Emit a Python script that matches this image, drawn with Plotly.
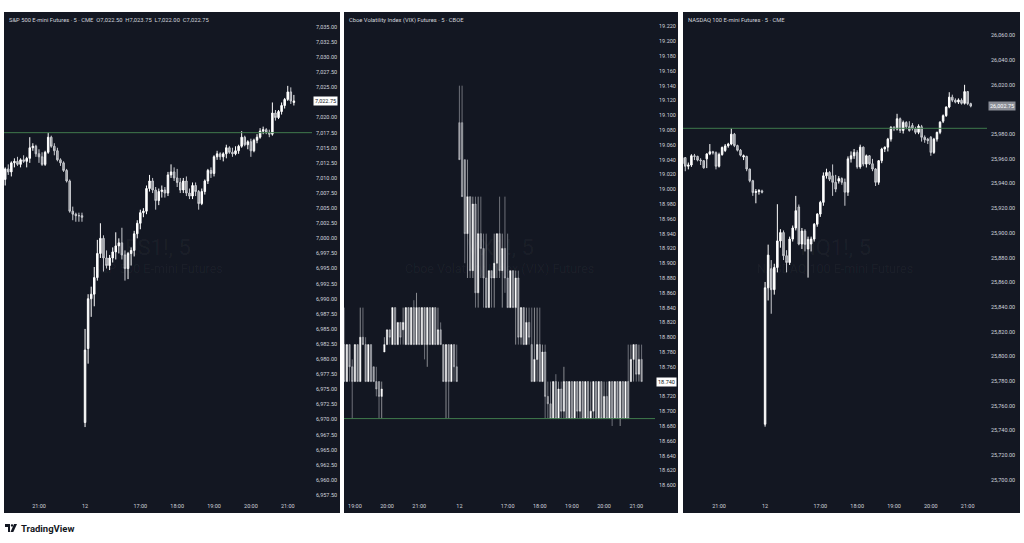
import math
import pandas as pd
import plotly.graph_objects as go

W, H = 1024, 543
BG = "#131722"
TXT = "#d1d4dc"
UP_FILL, UP_LINE = "#ffffff", "#ffffff"
DN_FILL, DN_LINE = "#8f9196", "#c9cbd0"
LEVEL_COLOR = "#3f7a4d"
FONT = "Roboto"

# ---------------- S&P 500 E-mini (ES1!) ----------------
es_open = [7009.75, 7011.5, 7011.0, 7012.5, 7012.75, 7012.25, 7013.0, 7012.75, 7013.25, 7015.0,
           7015.25, 7014.0, 7013.5, 7012.25, 7014.25, 7016.75, 7015.25, 7014.5, 7013.0, 7012.5,
           7011.25, 7009.5, 7004.5, 7004.0, 7003.75, 7003.75,
           6969.5, 6981.75, 6990.0, 6990.75, 6993.5, 6997.5, 7000.0, 6996.75, 6995.5, 6996.75,
           6997.75, 6998.75, 6999.25, 6997.25, 6995.0, 6997.5, 6998.0, 7000.75, 7002.5, 7004.25,
           7004.5, 7008.25, 7009.5, 7008.0, 7006.25, 7007.75, 7008.0, 7007.5, 7010.5, 7011.0,
           7010.0, 7009.25, 7008.0, 7009.5, 7007.5, 7007.0, 7008.75, 7007.75, 7005.75, 7007.75,
           7009.5, 7011.25, 7010.75, 7013.5, 7014.0, 7013.5, 7014.0, 7015.0, 7014.25, 7014.0,
           7014.5, 7015.25, 7016.75, 7015.5, 7016.0, 7014.5, 7016.25, 7016.75, 7017.75, 7018.0,
           7017.5, 7017.25, 7020.75, 7020.0, 7021.0, 7022.0, 7023.0, 7024.25, 7022.5]
es_high = [7011.75, 7012.25, 7012.75, 7013.25, 7013.5, 7013.25, 7013.75, 7013.5, 7016.75, 7015.75,
           7015.5, 7014.75, 7014.25, 7014.5, 7017.5, 7017.0, 7015.75, 7015.0, 7013.25, 7012.75,
           7011.5, 7009.75, 7005.25, 7004.25, 7004.25, 7004.25,
           6985.0, 6990.75, 6992.0, 6995.25, 6999.75, 7002.5, 7000.5, 6998.0, 6997.25, 6998.5,
           7001.0, 7000.0, 7001.75, 6998.0, 6997.75, 6998.5, 7001.25, 7003.0, 7004.75, 7005.0,
           7008.75, 7010.5, 7010.0, 7008.5, 7008.25, 7008.75, 7008.5, 7011.0, 7012.25, 7011.75,
           7011.5, 7010.0, 7010.0, 7010.25, 7008.25, 7009.25, 7009.25, 7008.0, 7008.25, 7009.75,
           7011.5, 7011.75, 7013.75, 7014.5, 7014.25, 7014.25, 7015.5, 7015.25, 7015.0, 7015.25,
           7015.5, 7017.75, 7017.0, 7016.25, 7016.5, 7016.5, 7017.25, 7018.25, 7018.5, 7018.25,
           7018.0, 7022.5, 7021.25, 7021.25, 7022.5, 7023.25, 7025.25, 7025.0, 7023.75]
es_low = [7008.75, 7010.5, 7010.25, 7011.75, 7012.0, 7011.75, 7012.5, 7011.75, 7012.5, 7014.5,
          7013.5, 7012.5, 7012.0, 7012.0, 7014.0, 7015.0, 7013.75, 7012.75, 7012.0, 7011.0,
          7009.25, 7004.25, 7003.0, 7002.75, 7002.75, 7002.75,
          6968.75, 6979.25, 6987.0, 6988.75, 6993.0, 6996.75, 6994.5, 6995.0, 6994.75, 6996.0,
          6996.5, 6997.5, 6996.5, 6993.0, 6993.25, 6995.5, 6997.0, 7000.0, 7001.5, 7003.5,
          7004.0, 7007.75, 7007.5, 7004.75, 7005.5, 7006.75, 7006.75, 7007.0, 7010.0, 7009.5,
          7008.5, 7007.5, 7007.5, 7007.0, 7006.5, 7006.5, 7007.0, 7004.75, 7005.5, 7007.25,
          7009.0, 7010.0, 7010.25, 7013.0, 7013.0, 7012.75, 7013.25, 7014.0, 7013.5, 7013.75,
          7014.0, 7015.0, 7015.25, 7014.75, 7013.5, 7014.25, 7015.75, 7016.5, 7017.25, 7017.25,
          7016.75, 7017.0, 7019.5, 7019.75, 7020.5, 7021.5, 7022.75, 7022.25, 7022.0]
es_close = [7011.5, 7011.0, 7012.5, 7012.75, 7012.25, 7013.0, 7012.75, 7013.25, 7015.0, 7015.25,
            7014.0, 7013.5, 7012.25, 7014.25, 7016.75, 7015.25, 7014.5, 7013.0, 7012.5, 7011.25,
            7009.5, 7004.5, 7004.0, 7003.75, 7003.75, 7003.5,
            6981.5, 6990.0, 6990.75, 6993.5, 6997.5, 7000.0, 6996.75, 6995.5, 6996.75, 6997.75,
            6998.75, 6999.25, 6997.25, 6995.0, 6997.5, 6998.0, 7000.75, 7002.5, 7004.25, 7004.5,
            7008.25, 7009.5, 7008.0, 7006.25, 7007.75, 7008.0, 7007.5, 7010.5, 7011.0, 7010.0,
            7009.25, 7008.0, 7009.5, 7007.5, 7007.0, 7008.75, 7007.75, 7005.75, 7007.75, 7009.5,
            7011.25, 7010.75, 7013.5, 7014.0, 7013.5, 7014.0, 7015.0, 7014.25, 7014.0, 7014.5,
            7015.25, 7016.75, 7015.5, 7016.0, 7014.5, 7016.25, 7016.75, 7017.75, 7018.0, 7017.5,
            7017.25, 7020.75, 7020.0, 7021.0, 7022.0, 7023.0, 7024.25, 7022.75, 7022.75]

# ---------------- VIX futures (VX1!) ----------------
vx_open = [18.79, 18.74, 18.79, 18.76, 18.74, 18.79, 18.74, 18.80, 18.79, 18.74,
           18.79, 18.76, 18.74, 18.74, 18.72, 18.78, 18.79, 18.81, 18.79, 18.84,
           18.79, 18.82, 18.81, 18.79, 18.84, 18.79, 18.84, 18.79, 18.84, 18.79,
           18.84, 18.79, 18.84, 18.79, 18.84, 18.79, 18.81, 18.79, 18.74, 18.79,
           18.74, 18.79, 18.76,
           19.09, 19.09, 19.04, 18.94, 18.99, 18.89, 18.98, 18.86, 18.94, 18.92,
           18.88, 18.84, 18.89, 18.88, 18.90, 18.94, 18.89, 18.92, 18.88, 18.84,
           18.89, 18.84, 18.88, 18.80, 18.84, 18.79, 18.82, 18.79, 18.74, 18.77,
           18.79, 18.74, 18.78, 18.72, 18.71, 18.69, 18.74, 18.69, 18.73, 18.70,
           18.74, 18.69, 18.74, 18.69, 18.74, 18.70, 18.74, 18.69, 18.74, 18.69,
           18.70, 18.74, 18.69, 18.74, 18.69, 18.72, 18.69, 18.74, 18.69, 18.74,
           18.69, 18.74, 18.69, 18.74, 18.74, 18.77, 18.79, 18.75, 18.77]
vx_high = [18.84, 18.79, 18.79, 18.77, 18.79, 18.79, 18.84, 18.84, 18.80, 18.79,
           18.79, 18.76, 18.76, 18.74, 18.74, 18.80, 18.81, 18.81, 18.84, 18.84,
           18.82, 18.82, 18.84, 18.84, 18.84, 18.84, 18.85, 18.86, 18.84, 18.84,
           18.84, 18.84, 18.84, 18.84, 18.84, 18.84, 18.82, 18.79, 18.79, 18.79,
           18.79, 18.79, 18.79,
           19.14, 19.14, 19.04, 19.04, 18.99, 18.99, 18.99, 18.99, 18.99, 18.94,
           18.94, 18.89, 18.89, 18.94, 18.94, 18.99, 18.94, 18.99, 18.94, 18.89,
           18.89, 18.89, 18.89, 18.84, 18.84, 18.84, 18.84, 18.84, 18.84, 18.84,
           18.84, 18.79, 18.79, 18.74, 18.74, 18.74, 18.75, 18.74, 18.74, 18.76,
           18.74, 18.74, 18.74, 18.74, 18.74, 18.74, 18.74, 18.74, 18.74, 18.74,
           18.74, 18.74, 18.74, 18.74, 18.74, 18.74, 18.74, 18.74, 18.74, 18.74,
           18.74, 18.74, 18.74, 18.79, 18.79, 18.79, 18.79, 18.79, 18.79]
vx_low = [18.74, 18.74, 18.74, 18.69, 18.74, 18.74, 18.74, 18.79, 18.74, 18.74,
          18.74, 18.74, 18.72, 18.69, 18.69, 18.78, 18.79, 18.79, 18.79, 18.79,
          18.79, 18.79, 18.79, 18.79, 18.79, 18.79, 18.79, 18.79, 18.79, 18.79,
          18.77, 18.76, 18.79, 18.79, 18.79, 18.79, 18.79, 18.74, 18.69, 18.69,
          18.74, 18.74, 18.74,
          19.04, 18.99, 18.90, 18.88, 18.88, 18.88, 18.84, 18.84, 18.88, 18.84,
          18.84, 18.84, 18.84, 18.84, 18.88, 18.88, 18.84, 18.86, 18.84, 18.84,
          18.84, 18.79, 18.79, 18.79, 18.79, 18.79, 18.79, 18.74, 18.74, 18.74,
          18.74, 18.74, 18.69, 18.69, 18.69, 18.69, 18.69, 18.69, 18.69, 18.69,
          18.69, 18.69, 18.69, 18.69, 18.69, 18.69, 18.69, 18.69, 18.69, 18.69,
          18.69, 18.69, 18.69, 18.69, 18.69, 18.69, 18.69, 18.68, 18.69, 18.69,
          18.68, 18.69, 18.69, 18.69, 18.74, 18.74, 18.74, 18.74, 18.74]
vx_close = [18.74, 18.79, 18.76, 18.74, 18.79, 18.74, 18.80, 18.79, 18.74, 18.79,
            18.74, 18.74, 18.73, 18.72, 18.73, 18.79, 18.81, 18.80, 18.84, 18.79,
            18.82, 18.80, 18.82, 18.84, 18.79, 18.84, 18.79, 18.84, 18.79, 18.84,
            18.79, 18.84, 18.79, 18.84, 18.79, 18.81, 18.79, 18.74, 18.79, 18.74,
            18.79, 18.76, 18.74,
            19.04, 18.99, 18.94, 18.99, 18.89, 18.98, 18.86, 18.94, 18.92, 18.88,
            18.84, 18.89, 18.88, 18.90, 18.94, 18.89, 18.92, 18.88, 18.84, 18.89,
            18.84, 18.88, 18.80, 18.84, 18.79, 18.82, 18.80, 18.74, 18.77, 18.79,
            18.74, 18.78, 18.72, 18.71, 18.69, 18.74, 18.69, 18.73, 18.70, 18.74,
            18.69, 18.74, 18.69, 18.74, 18.70, 18.74, 18.69, 18.74, 18.69, 18.70,
            18.74, 18.69, 18.74, 18.69, 18.72, 18.69, 18.74, 18.69, 18.74, 18.69,
            18.74, 18.69, 18.74, 18.69, 18.77, 18.79, 18.75, 18.77, 18.74]

# ---------------- NASDAQ 100 E-mini (NQ1!) ----------------
nq_open = [25956.0, 25961.0, 25954.0, 25955.0, 25962.5, 25962.0, 25959.0, 25958.5, 25960.0, 25964.0,
           25965.75, 25965.0, 25954.0, 25963.5, 25966.75, 25970.5, 25972.0, 25980.0, 25970.75, 25967.0,
           25961.5, 25962.0, 25951.75, 25942.25, 25932.75, 25933.5, 25934.0,
           25745.0, 25855.5, 25871.0, 25854.0, 25872.0, 25893.5, 25900.25, 25881.5, 25876.0, 25895.0,
           25904.0, 25921.0, 25891.0, 25901.5, 25887.0, 25891.0, 25895.0, 25907.0, 25915.25, 25924.75,
           25946.25, 25949.0, 25946.25, 25941.0, 25942.0, 25944.0, 25941.0, 25933.0, 25960.0, 25962.5,
           25965.25, 25953.5, 25969.5, 25955.75, 25962.5, 25956.0, 25951.75, 25941.0, 25958.5, 25968.0,
           25969.5, 25976.0, 25985.5, 25984.25, 25992.5, 25983.0, 25989.5, 25986.0, 25987.0, 25984.5,
           25981.5, 25986.0, 25977.5, 25976.0, 25977.5, 25965.25, 25976.0, 25981.5, 25990.5, 25995.0,
           26002.0, 26010.0, 26007.5, 26006.0, 26007.5, 26005.0, 26014.5, 26004.75]
nq_high = [25962.0, 25961.5, 25957.0, 25963.75, 25964.0, 25962.5, 25960.5, 25959.0, 25964.5, 25972.0,
           25966.5, 25966.0, 25965.0, 25970.0, 25972.0, 25973.0, 25984.75, 25981.0, 25971.5, 25968.0,
           25963.5, 25962.5, 25952.0, 25943.0, 25935.5, 25935.5, 25935.0,
           25860.25, 25890.5, 25878.0, 25875.0, 25923.25, 25903.0, 25902.0, 25886.0, 25897.0, 25906.0,
           25930.0, 25923.0, 25904.0, 25903.0, 25897.0, 25897.0, 25908.0, 25916.0, 25926.0, 25949.0,
           25952.0, 25950.0, 25955.5, 25947.0, 25946.0, 25945.0, 25944.0, 25962.0, 25966.0, 25968.0,
           25967.0, 25971.5, 25970.0, 25963.5, 25963.0, 25960.0, 25952.5, 25959.0, 25969.0, 25970.0,
           25977.0, 25986.5, 25986.5, 25996.5, 25993.5, 25991.0, 25990.5, 25990.5, 25989.0, 25986.0,
           25988.0, 25987.5, 25979.0, 25977.0, 25978.5, 25977.0, 25982.0, 25990.5, 25996.0, 26002.5,
           26014.0, 26012.0, 26009.0, 26009.0, 26009.0, 26020.0, 26015.0, 26005.5]
nq_low = [25947.75, 25950.0, 25951.5, 25953.5, 25959.0, 25958.0, 25955.0, 25952.0, 25952.5, 25963.0,
          25963.5, 25951.5, 25953.0, 25962.5, 25965.5, 25969.0, 25971.0, 25969.5, 25966.0, 25962.0,
          25959.0, 25950.0, 25941.0, 25930.0, 25924.0, 25931.0, 25932.0,
          25743.0, 25845.25, 25834.5, 25850.0, 25868.0, 25888.0, 25878.0, 25868.0, 25874.0, 25893.0,
          25902.0, 25890.0, 25887.0, 25885.0, 25863.75, 25885.0, 25893.0, 25905.0, 25913.0, 25922.0,
          25944.0, 25942.0, 25930.0, 25933.0, 25940.0, 25939.0, 25922.0, 25930.0, 25957.0, 25960.0,
          25952.0, 25952.0, 25954.0, 25953.0, 25955.0, 25950.0, 25938.0, 25939.0, 25956.5, 25965.5,
          25966.0, 25974.0, 25982.5, 25983.0, 25981.0, 25980.5, 25984.0, 25982.0, 25983.0, 25980.0,
          25980.0, 25974.0, 25973.0, 25972.0, 25962.5, 25964.0, 25974.0, 25980.0, 25989.0, 25994.0,
          26001.0, 26006.0, 26005.0, 26004.5, 26004.0, 26004.0, 26003.5, 26001.75]
nq_close = [25961.0, 25954.0, 25955.0, 25962.5, 25962.0, 25959.0, 25958.5, 25952.75, 25964.0, 25965.75,
            25965.0, 25954.0, 25963.5, 25969.25, 25970.5, 25972.0, 25980.0, 25970.75, 25967.0, 25963.0,
            25962.5, 25951.75, 25942.25, 25932.75, 25933.5, 25934.25, 25933.0,
            25855.5, 25882.0, 25854.0, 25872.0, 25893.5, 25900.25, 25881.5, 25876.0, 25895.0, 25904.0,
            25918.0, 25891.0, 25901.5, 25890.75, 25894.75, 25895.0, 25907.0, 25915.25, 25924.75, 25946.25,
            25949.0, 25943.5, 25941.0, 25935.5, 25944.0, 25941.0, 25933.0, 25960.0, 25962.5, 25965.25,
            25953.5, 25969.5, 25955.75, 25962.5, 25956.0, 25951.75, 25941.0, 25958.5, 25968.0, 25969.5,
            25976.0, 25985.5, 25984.25, 25992.5, 25983.0, 25989.5, 25986.0, 25983.0, 25984.5, 25981.5,
            25986.5, 25977.5, 25975.5, 25974.75, 25965.25, 25976.0, 25981.5, 25989.75, 25995.0, 26002.0,
            26010.0, 26007.5, 26006.0, 26007.75, 26005.0, 26014.5, 26004.75, 26002.75]

# sessions: (start of day-11 bars, count), (start of day-12 bars, count)
es_sessions = [("2026-02-11 20:05", 26), ("2026-02-12 15:30", 69)]
vx_sessions = [("2026-02-11 18:40", 43), ("2026-02-12 15:30", 69)]
nq_sessions = [("2026-02-11 20:00", 27), ("2026-02-12 15:30", 68)]

es_ticks = ["2026-02-11 21:00", "2026-02-12 15:30", "2026-02-12 17:00", "2026-02-12 18:00",
            "2026-02-12 19:00", "2026-02-12 20:00", "2026-02-12 21:00"]
es_ticktext = ["21:00", "12", "17:00", "18:00", "19:00", "20:00", "21:00"]
vx_ticks = ["2026-02-11 19:00", "2026-02-11 20:00", "2026-02-11 21:00", "2026-02-12 15:30",
            "2026-02-12 17:00", "2026-02-12 18:00", "2026-02-12 19:00", "2026-02-12 20:00",
            "2026-02-12 21:00"]
vx_ticktext = ["19:00", "20:00", "21:00", "12", "17:00", "18:00", "19:00", "20:00", "21:00"]
nq_ticks = ["2026-02-11 20:00", "2026-02-11 21:00", "2026-02-12 15:30", "2026-02-12 17:00",
            "2026-02-12 18:00", "2026-02-12 19:00", "2026-02-12 20:00", "2026-02-12 21:00"]
nq_ticktext = ["20:00", "21:00", "12", "17:00", "18:00", "19:00", "20:00", "21:00"]

titles = ["S&P 500 E-mini Futures · 5 · CME",
          "Cboe Volatility Index (VIX) Futures · 5 · CBOE",
          "NASDAQ 100 E-mini Futures · 5 · CME"]
wm_symbols = ["ES1!, 5", "VX1!, 5", "NQ1!, 5"]
wm_names = ["S&P 500 E-mini Futures", "Cboe Volatility Index (VIX) Futures", "NASDAQ 100 E-mini Futures"]
levels = [7017.5, 18.69, 25984.75]


def bar_times(sessions):
    out = []
    for start, n in sessions:
        out += list(pd.date_range(start, periods=n, freq="5min"))
    return out


# layout geometry (pixels)
PLOT_TOP, PLOT_BOT, PANEL_BOT = 12, 497, 513
panels = [
    dict(px0=4, px1=312, pr=340, xr=[-0.39, 99.9], yr=[6957.17, 7037.48], dtick=2.5, fmt="{:,.2f}",
         o=es_open, h=es_high, l=es_low, c=es_close, ses=es_sessions, tk=es_ticks, tt=es_ticktext,
         lab_bg="#ffffff", lab_fg="#131722", lw=1),
    dict(px0=344, px1=655, pr=678, xr=[-0.07, 116.0], yr=[18.584, 19.2396], dtick=0.02, fmt="{:.3f}",
         o=vx_open, h=vx_high, l=vx_low, c=vx_close, ses=vx_sessions, tk=vx_ticks, tt=vx_ticktext,
         lab_bg="#ffffff", lab_fg="#131722", lw=0.5),
    dict(px0=683, px1=987, pr=1020, xr=[0.26, 99.3], yr=[25686.0, 26079.0], dtick=20, fmt="{:,.2f}",
         o=nq_open, h=nq_high, l=nq_low, c=nq_close, ses=nq_sessions, tk=nq_ticks, tt=nq_ticktext,
         lab_bg="#8a8d96", lab_fg="#ffffff", lw=1),
]

fig = go.Figure()
shapes, annos = [], []
ydom = [1 - PLOT_BOT / H, 1 - PLOT_TOP / H]

for k, p in enumerate(panels):
    n = "" if k == 0 else str(k + 1)
    times = bar_times(p["ses"])
    idx = list(range(len(times)))
    tickvals = [times.index(pd.Timestamp(t)) for t in p["tk"]]
    # price-scale ticks; the one hidden under the last-price label is dropped (as TradingView does)
    lo, hi = p["yr"]
    ppu = (PLOT_BOT - PLOT_TOP) / (hi - lo)
    last = p["c"][-1]
    yt = []
    m = math.ceil(lo / p["dtick"] - 1e-9)
    while m * p["dtick"] <= hi + 1e-9:
        v = round(m * p["dtick"], 6)
        if abs(v - last) * ppu >= 7:
            yt.append(v)
        m += 1
    fig.add_trace(go.Candlestick(
        x=idx, open=p["o"], high=p["h"], low=p["l"], close=p["c"],
        xaxis="x" + n, yaxis="y" + n, whiskerwidth=0,
        increasing=dict(fillcolor=UP_FILL, line=dict(color=UP_LINE, width=p["lw"])),
        decreasing=dict(fillcolor=DN_FILL, line=dict(color=DN_LINE, width=p["lw"])),
        hoverinfo="skip"))
    fig.layout["xaxis" + n] = dict(
        domain=[p["px0"] / W, p["px1"] / W], range=p["xr"], anchor="y" + n,
        tickmode="array", tickvals=tickvals, ticktext=p["tt"], showgrid=False, zeroline=False,
        showline=False, ticks="", ticklabelstandoff=4,
        tickfont=dict(size=5.5, color=TXT, family=FONT),
        rangeslider=dict(visible=False), fixedrange=True)
    fig.layout["yaxis" + n] = dict(
        domain=ydom, range=p["yr"], anchor="x" + n, side="right",
        tickmode="array", tickvals=yt, ticktext=[p["fmt"].format(v) for v in yt],
        showgrid=False, zeroline=False, showline=False, ticks="",
        ticklabelstandoff=3, tickfont=dict(size=5.5, color=TXT, family=FONT), fixedrange=True)
    # dark pane
    shapes.append(dict(type="rect", xref="paper", yref="paper", layer="below",
                       x0=p["px0"] / W, x1=p["pr"] / W, y0=1 - PANEL_BOT / H, y1=1 - PLOT_TOP / H,
                       fillcolor=BG, line=dict(width=0)))
    # horizontal level line
    shapes.append(dict(type="line", xref="x" + n + " domain", yref="y" + n, x0=0, x1=1,
                       y0=levels[k], y1=levels[k], line=dict(color=LEVEL_COLOR, width=1)))
    # watermark
    annos.append(dict(xref="x" + n + " domain", yref="paper", x=0.5, y=1 - 247 / H,
                      text=wm_symbols[k], showarrow=False,
                      font=dict(size=22, color="rgba(255,255,255,0.045)", family=FONT)))
    annos.append(dict(xref="x" + n + " domain", yref="paper", x=0.5, y=1 - 268 / H,
                      text=wm_names[k], showarrow=False,
                      font=dict(size=12.5, color="rgba(255,255,255,0.045)", family=FONT)))
    # title
    title = titles[k]
    if k == 0:
        title += "  O{:,.2f}  H{:,.2f}  L{:,.2f}  C{:,.2f}".format(
            p["o"][-1], p["h"][-1], p["l"][-1], p["c"][-1])
    annos.append(dict(xref="paper", yref="paper", x=(p["px0"] + 3) / W, y=1 - 20 / H,
                      xanchor="left", yanchor="middle", text=title, showarrow=False,
                      font=dict(size=5.8, color=TXT, family=FONT)))
    # last price label
    annos.append(dict(xref="paper", yref="y" + n, x=(p["px1"] + 1) / W, y=last,
                      xanchor="left", yanchor="middle", text=p["fmt"].format(last),
                      showarrow=False, bgcolor=p["lab_bg"], borderpad=1,
                      font=dict(size=5.5, color=p["lab_fg"], family=FONT)))

# white gaps (clip overflowing labels)
for x0, x1 in [(0, 4), (340, 344), (678, 683), (1020, 1024)]:
    shapes.append(dict(type="rect", xref="paper", yref="paper", layer="above",
                       x0=x0 / W, x1=x1 / W, y0=1 - PANEL_BOT / H, y1=1 - PLOT_TOP / H,
                       fillcolor="#ffffff", line=dict(width=0)))

# TradingView logo
shapes += [
    dict(type="rect", xref="paper", yref="paper", x0=5 / W, x1=10 / W, y0=1 - 527 / H, y1=1 - 524 / H,
         fillcolor="#131722", line=dict(width=0), layer="above"),
    dict(type="rect", xref="paper", yref="paper", x0=8 / W, x1=10 / W, y0=1 - 532 / H, y1=1 - 524 / H,
         fillcolor="#131722", line=dict(width=0), layer="above"),
    dict(type="circle", xref="paper", yref="paper", x0=10.8 / W, x1=13.2 / W, y0=1 - 526.6 / H,
         y1=1 - 524.2 / H, fillcolor="#131722", line=dict(width=0), layer="above"),
    dict(type="path", xref="paper", yref="paper",
         path="M {a},{b} L {c},{b} L {d},{e} L {f},{e} Z".format(
             a=14 / W, b=1 - 524 / H, c=17 / W, d=13.3 / W, e=1 - 532 / H, f=10.5 / W),
         fillcolor="#131722", line=dict(width=0), layer="above"),
]
annos.append(dict(xref="paper", yref="paper", x=18.5 / W, y=1 - 528 / H, xanchor="left",
                  yanchor="middle", text="<b>TradingView</b>", showarrow=False,
                  font=dict(size=9.5, color="#131722", family=FONT)))

fig.update_layout(width=W, height=H, margin=dict(l=0, r=0, t=0, b=0),
                  paper_bgcolor="#ffffff", plot_bgcolor=BG, showlegend=False,
                  shapes=shapes, annotations=annos, hovermode=False)

fig.write_html("out.html", config={"displayModeBar": False, "staticPlot": True},
               post_script="document.body.style.margin='0';document.body.style.padding='0';"
                           "document.body.style.overflow='hidden';")
